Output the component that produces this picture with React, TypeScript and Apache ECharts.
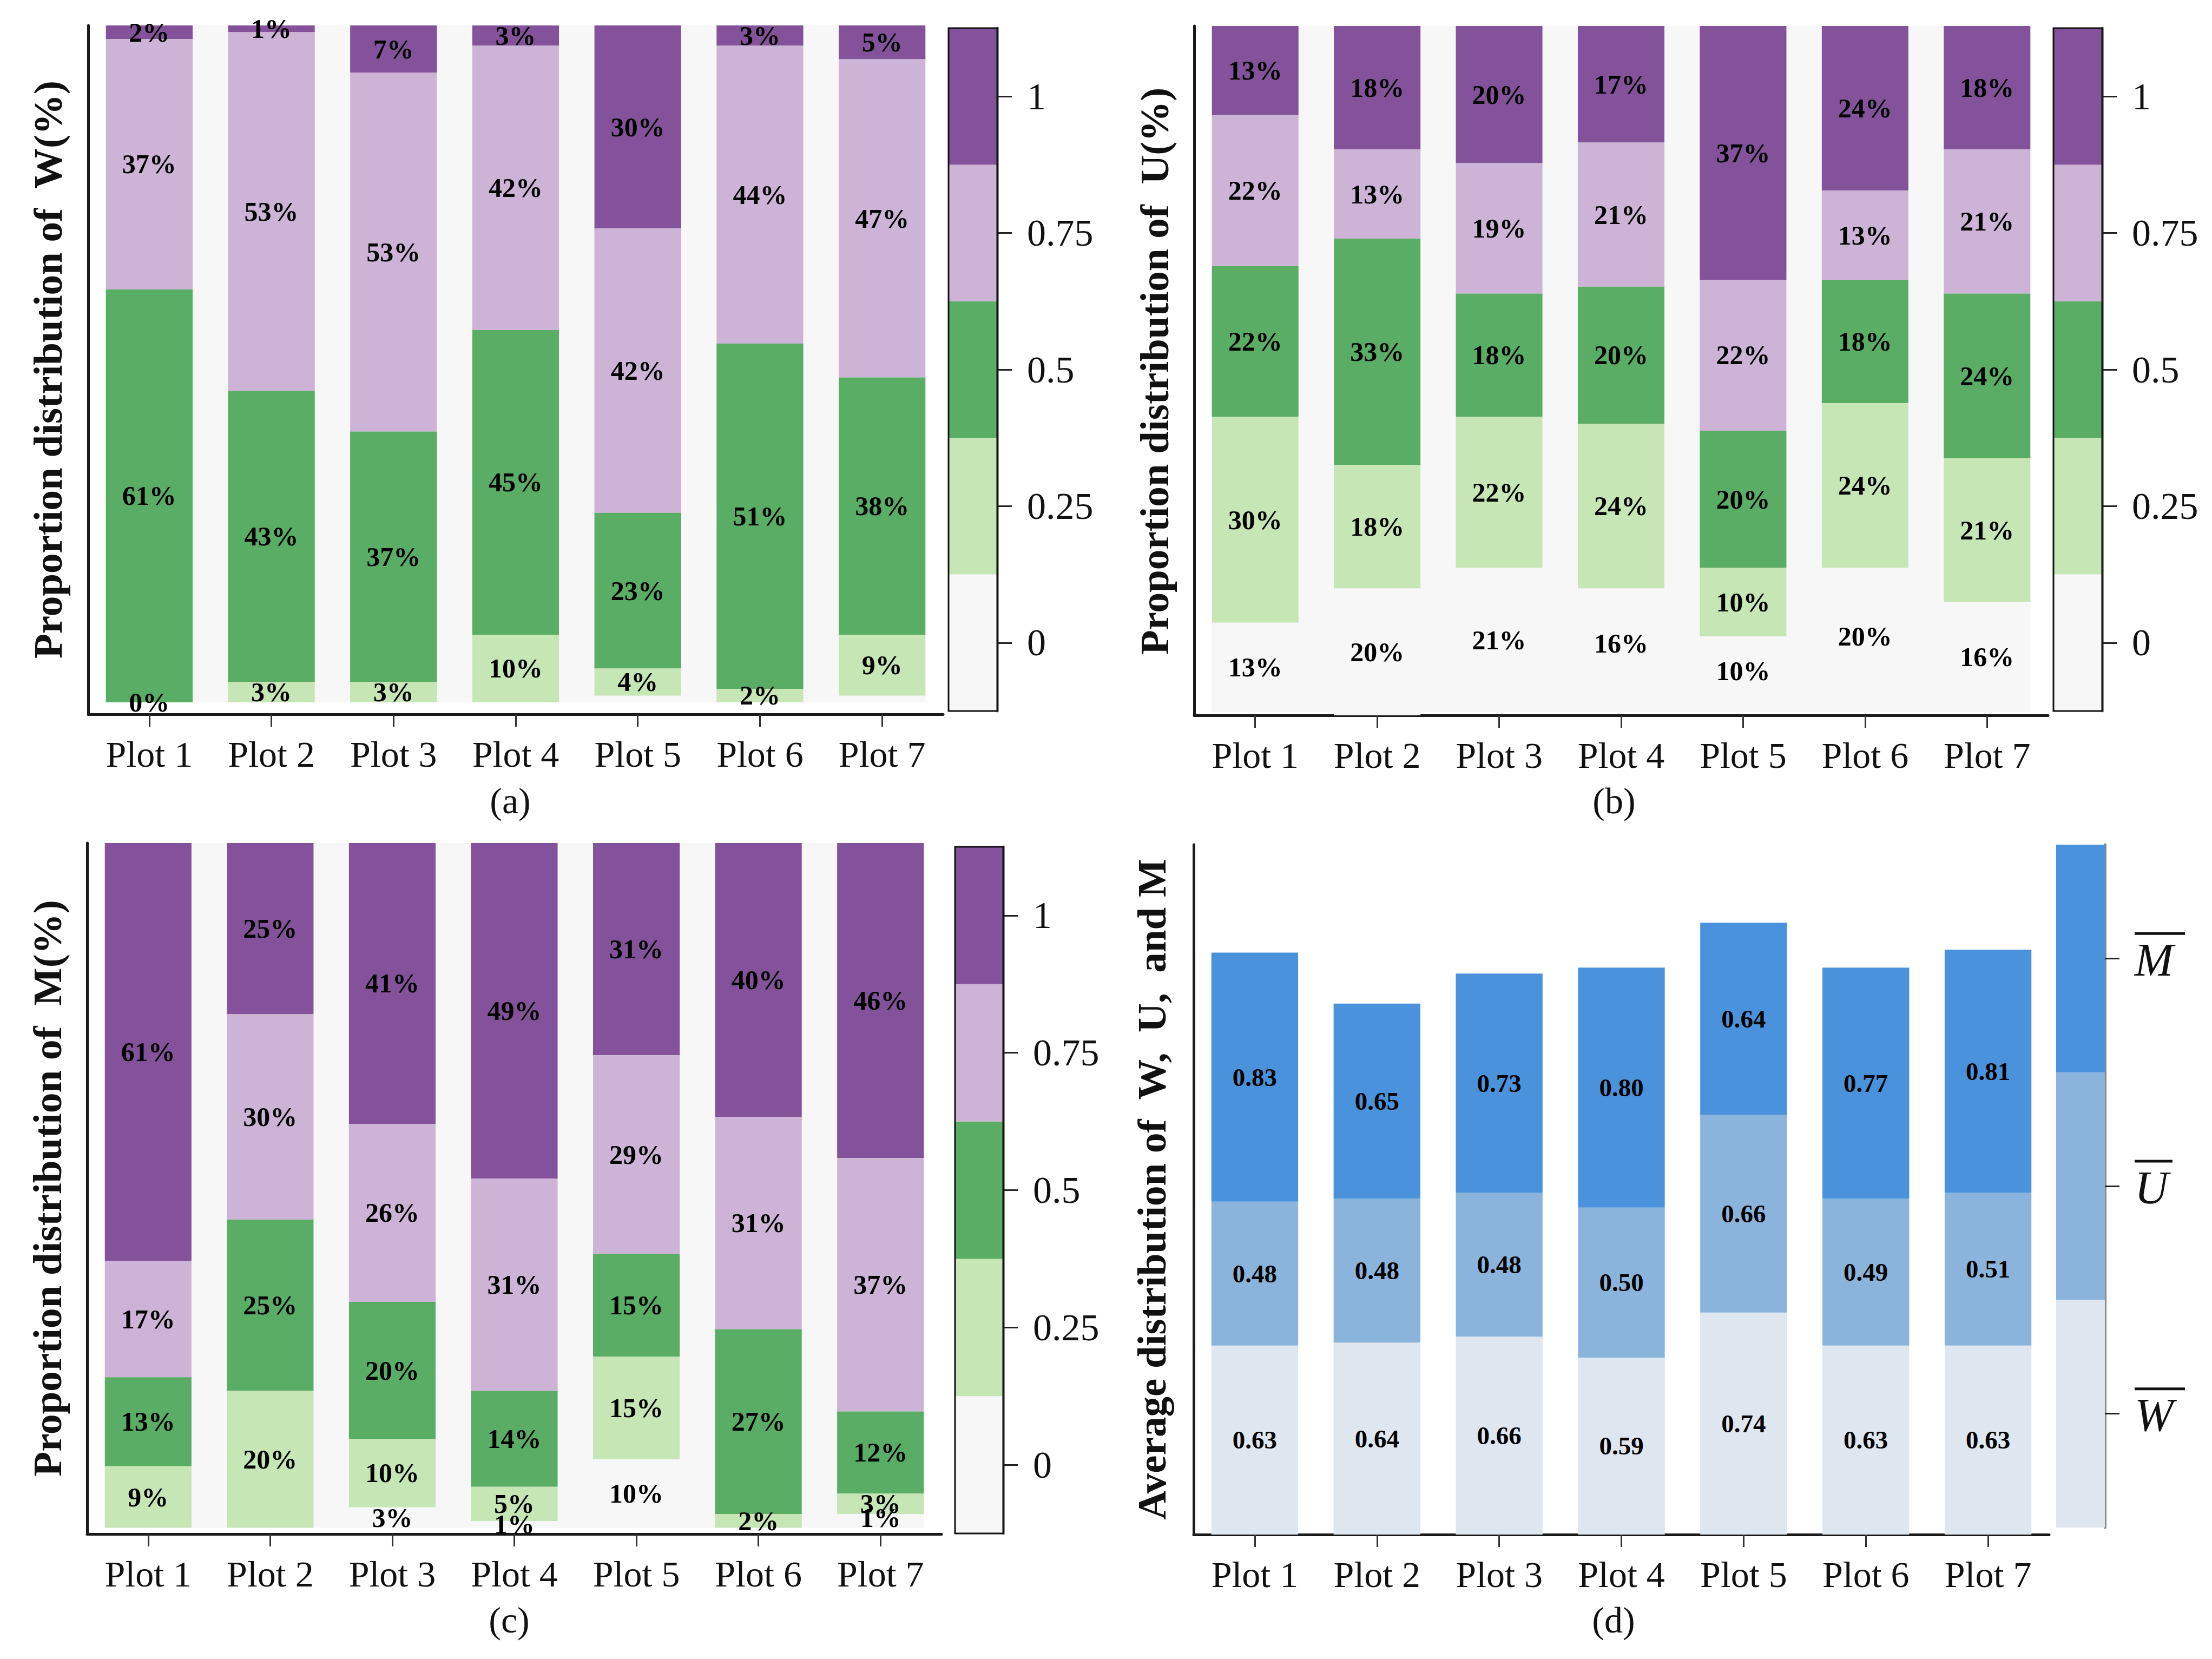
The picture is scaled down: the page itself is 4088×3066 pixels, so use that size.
import React, { useEffect, useRef } from "react";
import * as echarts from "echarts";

// ---------- data ----------
const categories = ["Plot 1", "Plot 2", "Plot 3", "Plot 4", "Plot 5", "Plot 6", "Plot 7"];
const colorbarTicks = ["0", "0.25", "0.5", "0.75", "1"];
const avgTicks = ["W", "U", "M"];

// (a) W — stacked from the top: level 1, 0.75, 0.5, 0.25
const w100 = [2, 1, 7, 3, 30, 3, 5];
const w75 = [37, 53, 53, 42, 42, 44, 47];
const w50 = [61, 43, 37, 45, 23, 51, 38];
const w25 = [0, 3, 3, 10, 4, 2, 9];

// (b) U
const u100 = [13, 18, 20, 17, 37, 24, 18];
const u75 = [22, 13, 19, 21, 22, 13, 21];
const u50 = [22, 33, 18, 20, 20, 18, 24];
const u25 = [30, 18, 22, 24, 10, 24, 21];
const u0 = [13, 20, 21, 16, 10, 20, 16];

// (c) M
const m100 = [61, 25, 41, 49, 31, 40, 46];
const m75 = [17, 30, 26, 31, 29, 31, 37];
const m50 = [13, 25, 20, 14, 15, 27, 12];
const m25 = [9, 20, 10, 5, 15, 2, 3];
const m0 = [null, null, 3, 1, 10, null, 1];

// (d) averages
const avgW = [0.63, 0.64, 0.66, 0.59, 0.74, 0.63, 0.63];
const avgU = [0.48, 0.48, 0.48, 0.5, 0.66, 0.49, 0.51];
const avgM = [0.83, 0.65, 0.73, 0.8, 0.64, 0.77, 0.81];

// ---------- styles ----------
const FONT = "'Liberation Serif', 'Times New Roman', serif";
const C_PURPLE = "#84529a";
const C_LPURPLE = "#cdb3d5";
const C_GREEN = "#5aad64";
const C_LGREEN = "#c6e6b5";
const C_GRAY = "#f7f7f7";
const levelColors = [C_GRAY, C_LGREEN, C_GREEN, C_LPURPLE, C_PURPLE];
const C_M = "#4a93dc";
const C_U = "#8bb4dc";
const C_W = "#dee6f0";
const avgColors = [C_W, C_U, C_M];

const AXIS_COLOR = "#1a1a1a";
const BAR_GAP = "29%";
const BAR_FRAC = 0.71;

export default function App() {
  const ref = useRef<HTMLDivElement | null>(null);

  useEffect(() => {
    document.body.style.margin = "0";
    if (!ref.current) return;
    const chart = echarts.init(ref.current, null, { renderer: "svg" });

    const mainGrids = [
      { left: 163, top: 47, width: 1580, height: 1273 },
      { left: 2207, top: 48, width: 1578, height: 1274 },
      { left: 161, top: 1558, width: 1579, height: 1277 },
      { left: 2206, top: 1561, width: 1581, height: 1275 },
    ];
    const cbGrids = [
      { left: 1753, top: 52, width: 90, height: 1262 },
      { left: 3795, top: 52, width: 90, height: 1262 },
      { left: 1765, top: 1565, width: 89, height: 1269 },
      { left: 3800, top: 1561, width: 90, height: 1262 },
    ];
    const yMax = [101.76, 100.5, 100.9];

    const grid: any[] = [
      ...mainGrids.map((g) => ({ ...g, containLabel: false })),
      ...cbGrids.map((g, i) => ({
        ...g,
        containLabel: false,
        show: i < 3,
        borderColor: "#111",
        borderWidth: 3,
        backgroundColor: "transparent",
        z: 5,
      })),
    ];

    const xAxis: any[] = [];
    const yAxis: any[] = [];
    for (let i = 0; i < 4; i++) {
      xAxis.push({
        gridIndex: i,
        type: "category",
        data: categories,
        axisLine: { show: true, onZero: false, lineStyle: { color: AXIS_COLOR, width: 5 } },
        axisTick: { show: true, alignWithLabel: true, length: 23, lineStyle: { color: "#333", width: 3 } },
        axisLabel: { fontSize: 68, margin: 40, color: "#111", fontFamily: FONT },
        splitLine: { show: false },
      });
      yAxis.push({
        gridIndex: i,
        type: "value",
        inverse: i < 3,
        min: 0,
        max: i < 3 ? yMax[i] : 2.3,
        axisLine: { show: true, onZero: false, lineStyle: { color: AXIS_COLOR, width: 5 } },
        axisTick: { show: false },
        axisLabel: { show: false },
        splitLine: { show: false },
      });
    }
    for (let i = 0; i < 4; i++) {
      xAxis.push({ gridIndex: 4 + i, type: "value", min: 0, max: 1, show: false });
      const isAvg = i === 3;
      yAxis.push({
        gridIndex: 4 + i,
        type: "category",
        position: "right",
        data: isAvg ? avgTicks : colorbarTicks,
        axisLine: { show: true, onZero: false, lineStyle: { color: "#8a8a8a", width: 5 } },
        axisTick: { show: true, alignWithLabel: true, length: 27, lineStyle: { color: "#222", width: 3 } },
        axisLabel: isAvg
          ? {
              margin: 55,
              color: "#111",
              formatter: (v: string) => `{o${v}| }\n{t|${v}}`,
              rich: {
                oW: { width: 93, height: 5, lineHeight: 5, fontSize: 4, backgroundColor: "#111" },
                oU: { width: 70, height: 5, lineHeight: 5, fontSize: 4, backgroundColor: "#111" },
                oM: { width: 93, height: 5, lineHeight: 5, fontSize: 4, backgroundColor: "#111" },
                t: { fontSize: 86, lineHeight: 92, fontStyle: "italic", fontFamily: FONT, color: "#111" },
              },
            }
          : { margin: 55, fontSize: 70, color: "#111", fontFamily: FONT },
        splitLine: { show: false },
      });
    }

    const labelStyle = {
      show: true,
      position: "inside",
      formatter: "{c}%",
      fontSize: 50,
      fontWeight: "bold",
      fontFamily: FONT,
      color: "#000",
      textBorderWidth: 0,
    };

    const series: any[] = [];

    const background = (idx: number) => ({
      type: "custom",
      xAxisIndex: idx,
      yAxisIndex: idx,
      z: 1,
      silent: true,
      data: [[0, 0, categories.length - 1, 100]],
      renderItem: (_p: any, api: any) => {
        const a = api.coord([api.value(0), api.value(1)]);
        const b = api.coord([api.value(2), api.value(3)]);
        const w = api.size([1, 0])[0] * BAR_FRAC;
        return {
          type: "rect",
          shape: {
            x: a[0] - w / 2,
            y: Math.min(a[1], b[1]),
            width: b[0] - a[0] + w,
            height: Math.abs(b[1] - a[1]),
          },
          style: { fill: C_GRAY },
        };
      },
    });

    const stacked = (idx: number, sets: (number | null)[][], colors: string[]) => {
      series.push(background(idx));
      sets.forEach((d, k) => {
        series.push({
          type: "bar",
          name: `s${idx}-${k}`,
          xAxisIndex: idx,
          yAxisIndex: idx,
          stack: `stack${idx}`,
          barCategoryGap: BAR_GAP,
          z: 2,
          data: d,
          itemStyle: { color: colors[k] },
          label: labelStyle,
        });
      });
    };

    stacked(0, [w100, w75, w50, w25], [C_PURPLE, C_LPURPLE, C_GREEN, C_LGREEN]);
    stacked(1, [u100, u75, u50, u25, u0], [C_PURPLE, C_LPURPLE, C_GREEN, C_LGREEN, C_GRAY]);
    stacked(2, [m100, m75, m50, m25, m0], [C_PURPLE, C_LPURPLE, C_GREEN, C_LGREEN, C_GRAY]);

    [avgW, avgU, avgM].forEach((d, k) => {
      series.push({
        type: "bar",
        name: `avg-${avgTicks[k]}`,
        xAxisIndex: 3,
        yAxisIndex: 3,
        stack: "avg",
        barCategoryGap: BAR_GAP,
        data: d,
        itemStyle: { color: avgColors[k] },
        label: {
          show: true,
          position: "inside",
          formatter: (p: any) => Number(p.value).toFixed(2),
          fontSize: 47,
          fontWeight: "bold",
          fontFamily: FONT,
          color: "#000",
          textBorderWidth: 0,
        },
      });
    });

    for (let i = 0; i < 4; i++) {
      const cols = i === 3 ? avgColors : levelColors;
      series.push({
        type: "bar",
        name: `colorbar-${i}`,
        xAxisIndex: 4 + i,
        yAxisIndex: 4 + i,
        barWidth: "100%",
        silent: true,
        z: 2,
        data: cols.map((c) => ({ value: 1, itemStyle: { color: c } })),
      });
    }

    const ylab = (text: string, x: number, y: number) => ({
      type: "text",
      x,
      y,
      rotation: Math.PI / 2,
      style: {
        text,
        align: "center",
        verticalAlign: "middle",
        fontSize: 75,
        fontWeight: "bold",
        fontFamily: FONT,
        fill: "#111",
      },
    });
    const cap = (text: string, x: number, y: number) => ({
      type: "text",
      x,
      y,
      style: { text, align: "center", verticalAlign: "middle", fontSize: 68, fontFamily: FONT, fill: "#111" },
    });

    chart.setOption({
      animation: false,
      backgroundColor: "#ffffff",
      grid,
      xAxis,
      yAxis,
      series,
      graphic: [
        ylab("Proportion distribution of  W(%)", 88, 683),
        ylab("Proportion distribution of  U(%)", 2133, 686),
        ylab("Proportion distribution of  M(%)", 87, 2196),
        ylab("Average distribution of  W,  U,  and M", 2128, 2198),
        cap("(a)", 943, 1480),
        cap("(b)", 2983, 1480),
        cap("(c)", 941, 2994),
        cap("(d)", 2982, 2994),
      ],
    });

    return () => chart.dispose();
  }, []);

  return <div ref={ref} style={{ width: 4088, height: 3066 }} />;
}
